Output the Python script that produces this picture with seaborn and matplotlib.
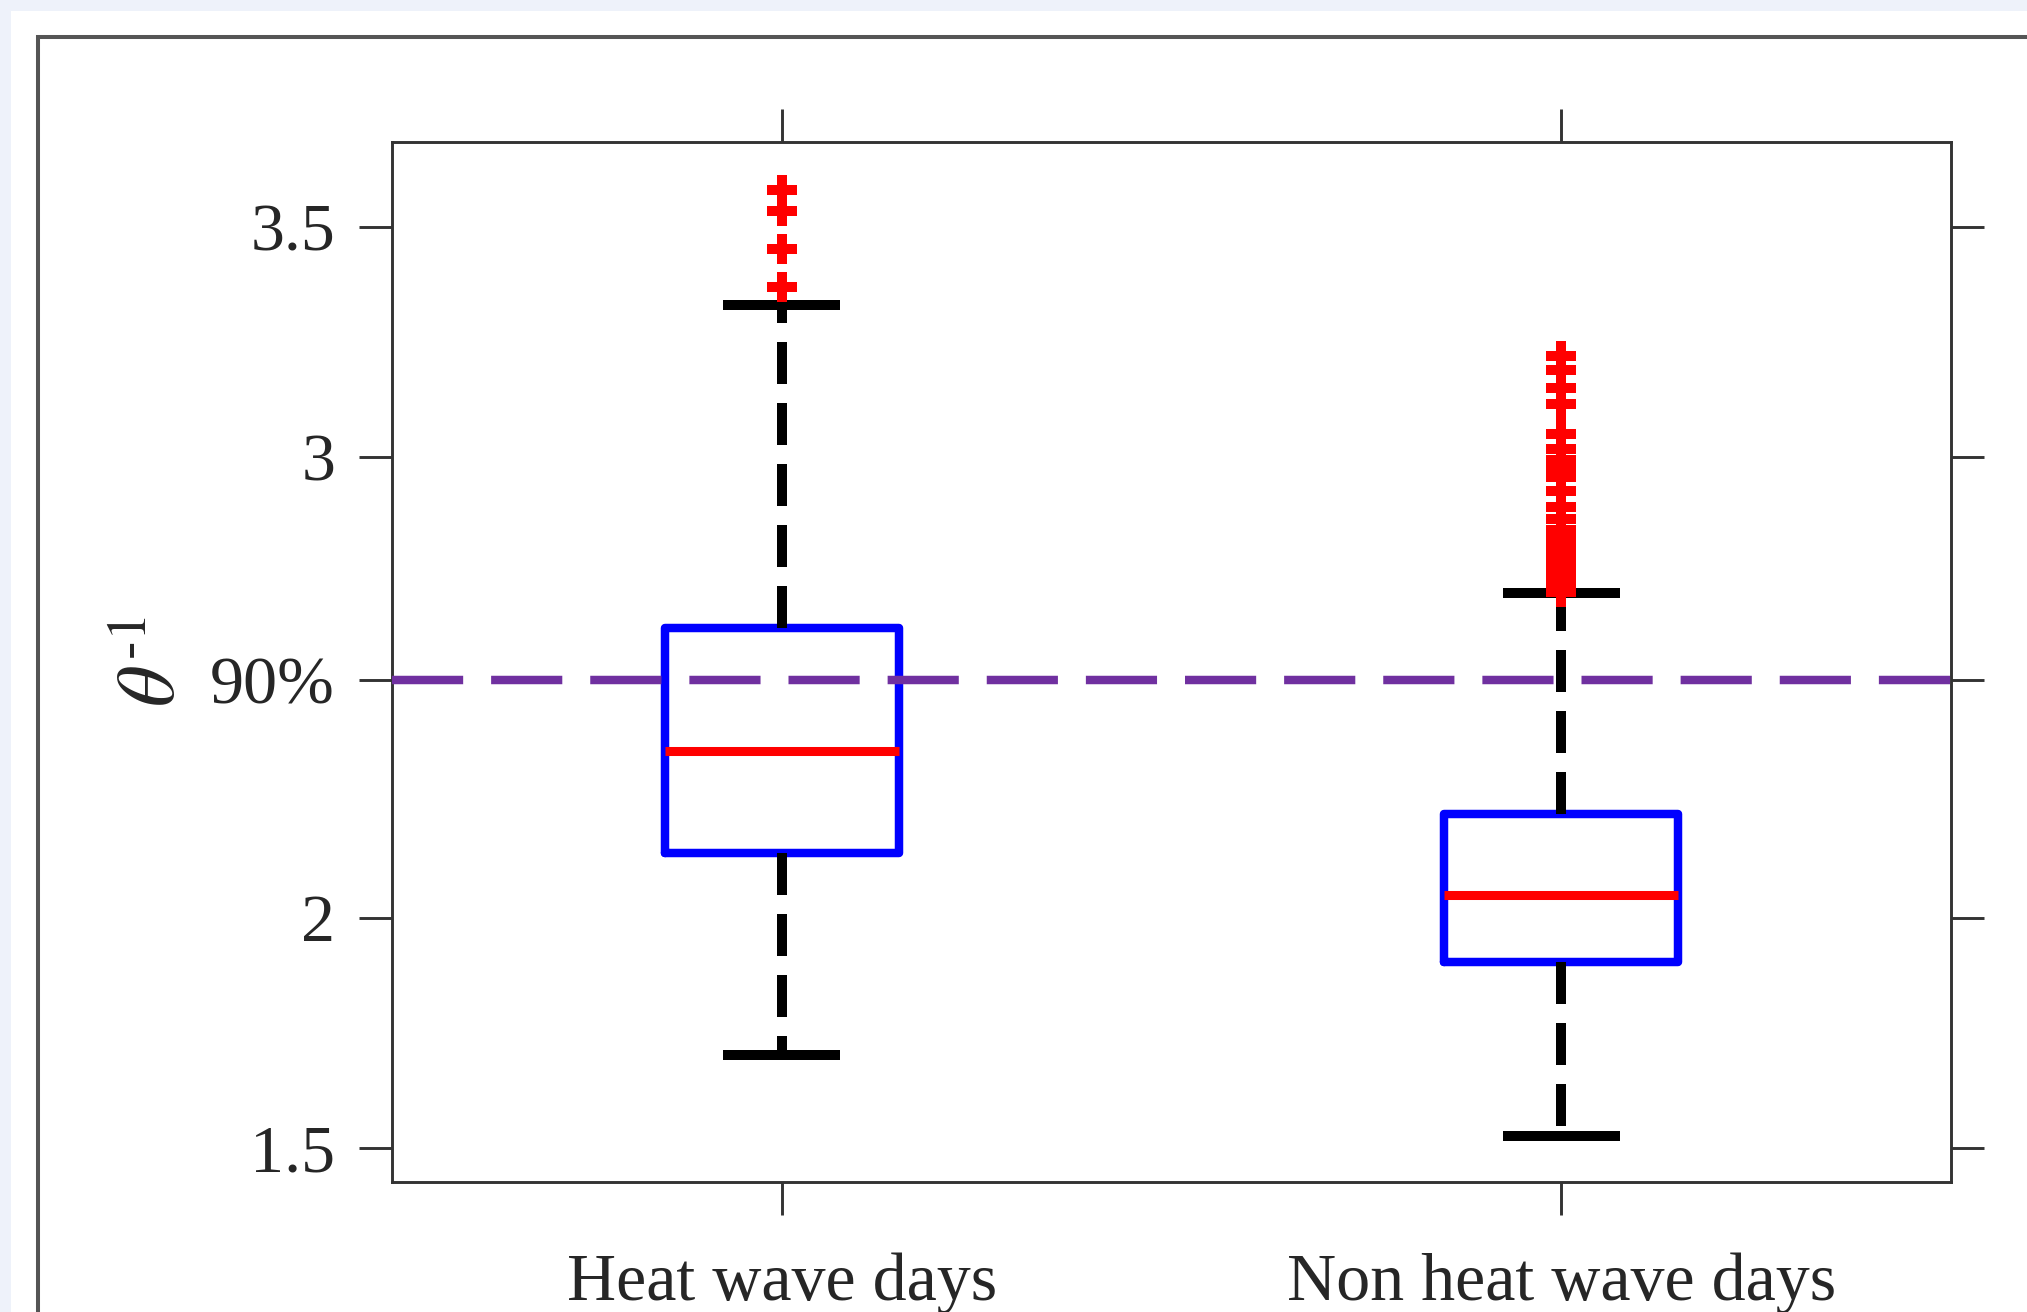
import matplotlib
matplotlib.use("Agg")
import matplotlib.pyplot as plt
from matplotlib.patches import Rectangle
import seaborn as sns
import pandas as pd

# ---- data ----
categories = ["Heat wave days", "Non heat wave days"]
q1 = [2.141, 1.903]
median = [2.361, 2.050]
q3 = [2.628, 2.224]
whisker_low = [1.702, 1.526]
whisker_high = [3.330, 2.704]
outliers_heat = [3.370, 3.451, 3.535, 3.580]
outliers_non = [3.219, 3.188, 3.149, 3.116, 3.050, 3.017, 2.993, 2.979,
                2.956, 2.927, 2.892, 2.866, 2.841, 2.830, 2.818, 2.806,
                2.795, 2.783, 2.771, 2.760, 2.748, 2.737, 2.726, 2.716, 2.706]
threshold_90 = 2.516
ytick_values = [1.5, 2.0, threshold_90, 3.0, 3.5]
ytick_labels = ["1.5", "2", "90%", "3", "3.5"]

# ---- style ----
sns.set_theme(style="ticks")
plt.rcParams["font.family"] = ["Liberation Serif", "DejaVu Serif"]
plt.rcParams["mathtext.fontset"] = "stix"
TXT = "#262626"

W, H, DPI = 2027, 1312, 100
fig = plt.figure(figsize=(W / DPI, H / DPI), dpi=DPI)
fig.patch.set_facecolor("#EEF2FA")
# white panel and its dark frame
fig.add_artist(Rectangle((11 / W, -0.1), 1.2, 1.1 - 11 / H, transform=fig.transFigure,
                         facecolor="white", edgecolor="none", zorder=-10))
fig.add_artist(Rectangle((38 / W, -0.1), 1.2, 1.1 - 37 / H, transform=fig.transFigure,
                         facecolor="none", edgecolor="#555555", lw=2.9, zorder=-9))

ax = fig.add_axes([392 / W, 1 - 1182 / H, (1951 - 392) / W, (1182 - 142) / H])
ax.set_facecolor("white")

# box statistics drawn through matplotlib's bxp on the seaborn-styled axes
stats = []
for i, name in enumerate(categories):
    stats.append(dict(label=name, med=median[i], q1=q1[i], q3=q3[i],
                      whislo=whisker_low[i], whishi=whisker_high[i], fliers=[]))
ax.bxp(stats, positions=[0, 1], widths=0.3, capwidths=0.15, showfliers=False,
       boxprops=dict(color="#0000FF", lw=6.1, solid_joinstyle="round"),
       medianprops=dict(color="#FF0000", lw=6.5, solid_capstyle="butt"),
       whiskerprops=dict(color="black", lw=7.2, linestyle=(0, (4.2, 1.9))),
       capprops=dict(color="black", lw=7.2, solid_capstyle="butt"),
       manage_ticks=False, zorder=3)

# outliers with seaborn
df = pd.DataFrame({
    "group": [categories[0]] * len(outliers_heat) + [categories[1]] * len(outliers_non),
    "value": outliers_heat + outliers_non,
})
sns.stripplot(data=df, x="group", y="value", order=categories, jitter=False,
              marker="P", size=21, color="#FF0000", linewidth=0, ax=ax, zorder=5)

# 90% threshold line
ax.axhline(threshold_90, color="#7030A0", lw=6.1, linestyle=(0, (8.4, 3.3)), zorder=4)

ax.set_xlim(-0.5, 1.5)
ax.set_ylim(1.426, 3.684)
ax.set_xticks([0, 1])
ax.set_xticklabels(categories)
ax.set_yticks(ytick_values)
ax.set_yticklabels(ytick_labels)
ax.set_xlabel("")
ax.set_ylabel(r"$\theta^{\text{-}1}$", fontsize=58, color=TXT, rotation=90)
ax.yaxis.set_label_coords(-0.128, 0.5)

for s in ax.spines.values():
    s.set_visible(True)
    s.set_color("#333333")
    s.set_linewidth(2.1)
ax.tick_params(axis="both", which="major", direction="out", length=24, width=2.1,
               color="#333333", labelsize=49, labelcolor=TXT,
               top=True, right=True, labeltop=False, labelright=False)
ax.tick_params(axis="y", pad=17)
ax.tick_params(axis="x", pad=27)
ax.grid(False)

fig.savefig("out.png", dpi=DPI, facecolor=fig.get_facecolor())
